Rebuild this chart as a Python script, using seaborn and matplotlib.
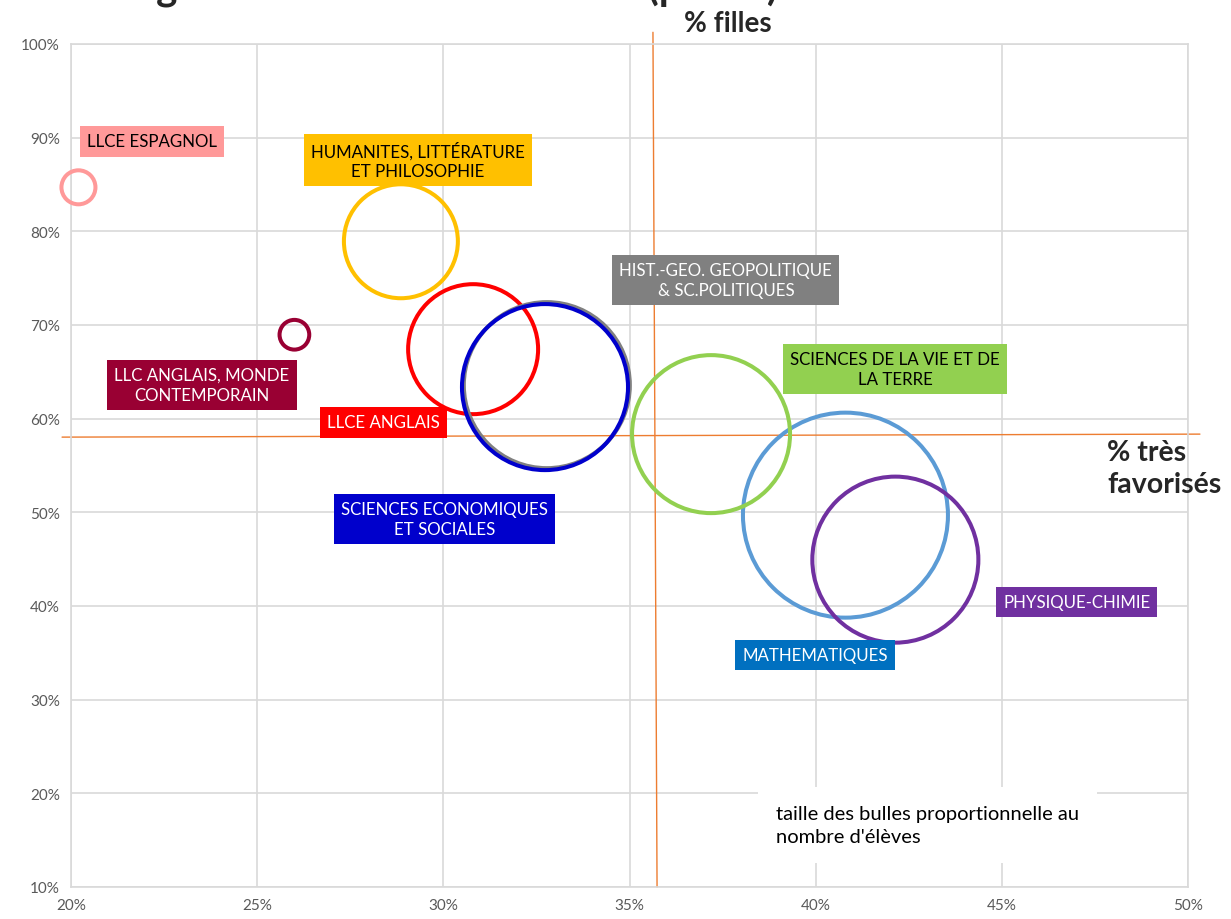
import pandas as pd
import seaborn as sns
import matplotlib.pyplot as plt
from matplotlib.ticker import PercentFormatter, MultipleLocator

# données (en %)
specialites = [
    "LLCE ESPAGNOL",
    "LLC ANGLAIS, MONDE\nCONTEMPORAIN",
    "HUMANITES, LITTÉRATURE\nET PHILOSOPHIE",
    "LLCE ANGLAIS",
    "HIST.-GEO. GEOPOLITIQUE\n& SC.POLITIQUES",
    "SCIENCES ECONOMIQUES\nET SOCIALES",
    "MATHEMATIQUES",
    "SCIENCES DE LA VIE ET DE\nLA TERRE",
    "PHYSIQUE-CHIMIE",
]
pct_tres_favorises = [20.2, 26.0, 28.86, 30.8, 32.78, 32.73, 40.8, 37.19, 42.14]
pct_filles = [84.7, 68.96, 78.94, 67.42, 63.58, 63.37, 49.7, 58.35, 44.95]
taille_bulle = [2.75, 2.1, 30.9, 40.2, 65.6, 65.6, 100, 59.4, 65.6]  # relatif au nombre d'élèves

couleurs = ["#FF9999", "#990033", "#FFC000", "#FF0000", "#808080",
            "#0000CC", "#5B9BD5", "#92D050", "#7030A0"]
couleurs_etiquettes = ["#FF9999", "#990033", "#FFC000", "#FF0000", "#808080",
                       "#0000CC", "#0070C0", "#92D050", "#7030A0"]
texte_blanc = [False, True, False, True, True, True, True, False, True]

# position des étiquettes (centre de la boîte, en coordonnées des axes)
pos_etiquettes = [(22.18, 89.6), (23.52, 63.6), (29.32, 87.6), (28.40, 59.6),
                  (37.59, 74.8), (30.04, 49.3), (39.98, 34.8), (42.13, 65.3),
                  (47.01, 40.4)]

df = pd.DataFrame({
    "specialite": specialites,
    "favorises": pct_tres_favorises,
    "filles": pct_filles,
    "taille": taille_bulle,
})

sns.set_theme(style="white")
plt.rcParams["font.family"] = ["Lato", "DejaVu Sans"]

fig = plt.figure(figsize=(12.31, 9.2), dpi=100)
ax = fig.add_axes([71 / 1231, 1 - 888 / 920, (1188 - 71) / 1231, (888 - 45) / 920])

# diamètre max ~205 px -> en points
smax = (205 * 0.72) ** 2
sns.scatterplot(
    data=df, x="favorises", y="filles", hue="specialite", size="taille",
    palette=dict(zip(specialites, couleurs)), sizes=(0, smax), size_norm=(0, 100),
    legend=False, ax=ax, zorder=3, clip_on=False,
)
bulles = ax.collections[0]
bulles.set_edgecolor(bulles.get_facecolor())
bulles.set_facecolor("none")
bulles.set_linewidth(2.9)

ax.set_xlim(20, 50)
ax.set_ylim(10, 100)
ax.xaxis.set_major_locator(MultipleLocator(5))
ax.yaxis.set_major_locator(MultipleLocator(10))
ax.xaxis.set_major_formatter(PercentFormatter(100, decimals=0))
ax.yaxis.set_major_formatter(PercentFormatter(100, decimals=0))
ax.grid(True, color="#D9D9D9", linewidth=1.2, zorder=0)
ax.set_axisbelow(True)
for s in ax.spines.values():
    s.set_color("#D9D9D9")
    s.set_linewidth(1.2)
ax.tick_params(colors="#595959", labelsize=11, length=0, pad=8)
ax.set_xlabel("")
ax.set_ylabel("")

# axes de référence (moyennes)
ax.plot([35.63, 35.74], [101.25, 10], color="#ED7D31", lw=1, clip_on=False, zorder=2)
ax.plot([19.76, 50.32], [58.03, 58.35], color="#ED7D31", lw=1, clip_on=False, zorder=2)

for nom, (lx, ly), c, blanc in zip(specialites, pos_etiquettes, couleurs_etiquettes, texte_blanc):
    ax.text(lx, ly, nom, ha="center", va="center", fontsize=12.2,
            color="white" if blanc else "black", linespacing=1.3, zorder=5,
            bbox=dict(boxstyle="square,pad=0.42", fc=c, ec="none"))

ax.text(38.93, 16.6, "taille des bulles proportionnelle au\nnombre d'élèves",
        ha="left", va="center", fontsize=14.5, color="black", linespacing=1.45,
        zorder=5, bbox=dict(boxstyle="square,pad=0.9", fc="white", ec="none"))

fig.text(728 / 1231, 1 - 24 / 920, "% filles", ha="center", va="center",
         fontsize=20, fontweight="bold")
fig.text(1107 / 1231, 1 - 469 / 920, "% très\nfavorisés", ha="left", va="center",
         fontsize=20.5, fontweight="bold", linespacing=1.25)

# titre coupé en haut de l'image
fig.text(25 / 1231, 1.0, "Sociologie des élèves de terminale (public)",
         ha="left", va="baseline", fontsize=29, fontweight="bold")

plt.savefig("out.png", dpi=100)
